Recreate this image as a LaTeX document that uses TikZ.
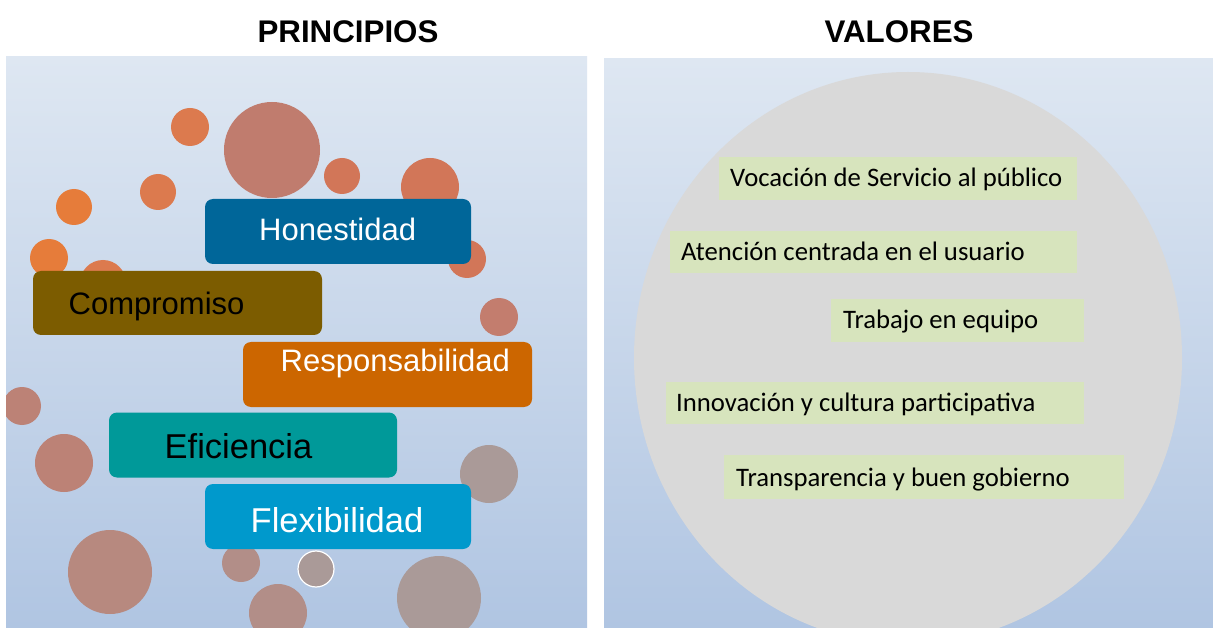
\documentclass[tikz,border=0pt]{standalone}
\usepackage{fontspec}
\setmainfont{Liberation Sans}
\newfontfamily\calfont{Carlito}
\definecolor{bgtop}{RGB}{222,231,242}
\definecolor{bgbot}{RGB}{176,197,226}
\definecolor{chon}{RGB}{0,102,153}
\definecolor{ccomp}{RGB}{124,92,0}
\definecolor{cresp}{RGB}{204,102,0}
\definecolor{cefi}{RGB}{0,153,153}
\definecolor{cflex}{RGB}{0,153,204}
\definecolor{cgreen}{RGB}{215,228,189}
\definecolor{cell}{RGB}{217,217,217}
\definecolor{o1}{RGB}{220,122,78}
\definecolor{o2}{RGB}{230,124,58}
\definecolor{o3}{RGB}{210,118,88}
\definecolor{r1}{RGB}{192,124,110}
\definecolor{r2}{RGB}{195,125,110}
\definecolor{r3}{RGB}{188,130,118}
\definecolor{r4}{RGB}{183,137,127}
\definecolor{g1}{RGB}{178,142,136}
\definecolor{g2}{RGB}{170,154,152}
\begin{document}
\begin{tikzpicture}[x=1pt,y=-1pt,
  pbox/.style={rounded corners=8pt, inner sep=0pt, draw=none},
  ptext/.style={inner sep=0pt, anchor=base west, font=\fontsize{31}{36}\selectfont},
  ptextb/.style={inner sep=0pt, anchor=base west, font=\fontsize{34.5}{40}\selectfont},
  vbox/.style={inner sep=0pt, draw=none, fill=cgreen},
  vtext/.style={inner sep=0pt, anchor=base west, font=\calfont\fontsize{26.7}{32}\selectfont},
  ttl/.style={inner sep=0pt, anchor=base, font=\bfseries\fontsize{31.3}{36}\selectfont}]
\useasboundingbox (0,0) rectangle (1213,628);
\fill[white] (0,0) rectangle (1213,628);
% titles
\node[ttl] (tp) at (348,43) {PRINCIPIOS};
\node[ttl] (tv) at (899,43) {VALORES};
% panels
\shade[top color=bgtop,bottom color=bgbot] (6,57) rectangle (587,628);
\shade[top color=bgtop,bottom color=bgbot] (604,59) rectangle (1213,628);
% circles
\begin{scope}
\clip (6,57) rectangle (587,628);
\fill[o1] (190,127) circle[radius=19pt];
\fill[r1] (272,150) circle[radius=48pt];
\fill[o1] (158,192) circle[radius=18pt];
\fill[o2] (74,207) circle[radius=18pt];
\fill[o2] (49,258) circle[radius=19pt];
\fill[o1] (103,283) circle[radius=23pt];
\fill[o3] (342,176) circle[radius=18pt];
\fill[o3] (430,187) circle[radius=29pt];
\fill[o3] (467,259) circle[radius=19pt];
\fill[r2] (499,317) circle[radius=19pt];
\fill[r3] (22,406) circle[radius=19pt];
\fill[r3] (64,463) circle[radius=29pt];
\fill[r4] (110,572) circle[radius=42pt];
\fill[g1] (241,563) circle[radius=19pt];
\fill[g1] (278,613) circle[radius=29pt];
\fill[g2] (489,474) circle[radius=29pt];
\fill[g2,draw=white,line width=1.2pt] (316,569) circle[radius=18pt];
\fill[g2] (439,598) circle[radius=42pt];
\end{scope}
% principle boxes
\node[pbox, fill=chon, minimum width=266pt, minimum height=65pt] (hon) at (338,231.5) {};
\node[pbox, fill=ccomp, minimum width=289pt, minimum height=64pt] (com) at (177.5,303) {};
\node[pbox, fill=cresp, minimum width=289pt, minimum height=65pt] (res) at (387.5,374.5) {};
\node[pbox, fill=cefi, minimum width=288pt, minimum height=65pt] (efi) at (253,445) {};
\node[pbox, fill=cflex, minimum width=266pt, minimum height=65pt] (fle) at (338,516.5) {};
\node[ptext, text=white] (honT) at (259,241) {Honestidad};
\node[ptext, text=black] (comT) at (68.5,315) {Compromiso};
\node[ptext, text=white] (resT) at (280.5,371) {Responsabilidad};
\node[ptextb, text=black] (efiT) at (164.5,458) {Eficiencia};
\node[ptextb, text=white] (fleT) at (250.5,532) {Flexibilidad};
% values
\begin{scope}
\clip (604,59) rectangle (1213,628);
\fill[cell] (908,358) ellipse[x radius=274pt, y radius=286pt];
\end{scope}
\node[vbox, minimum width=358pt, minimum height=43pt] (v1) at (898,178.5) {};
\node[vbox, minimum width=407pt, minimum height=42pt] (v2) at (873.5,252) {};
\node[vbox, minimum width=253pt, minimum height=43pt] (v3) at (957.5,320.5) {};
\node[vbox, minimum width=418pt, minimum height=42pt] (v4) at (875,403) {};
\node[vbox, minimum width=400pt, minimum height=44pt] (v5) at (924,477) {};
\node[vtext] (v1T) at (730,187) {Vocación de Servicio al público};
\node[vtext] (v2T) at (681,261) {Atención centrada en el usuario};
\node[vtext] (v3T) at (843,329) {Trabajo en equipo};
\node[vtext] (v4T) at (676,411) {Innovación y cultura participativa};
\node[vtext] (v5T) at (736,486) {Transparencia y buen gobierno};
\end{tikzpicture}
\end{document}
